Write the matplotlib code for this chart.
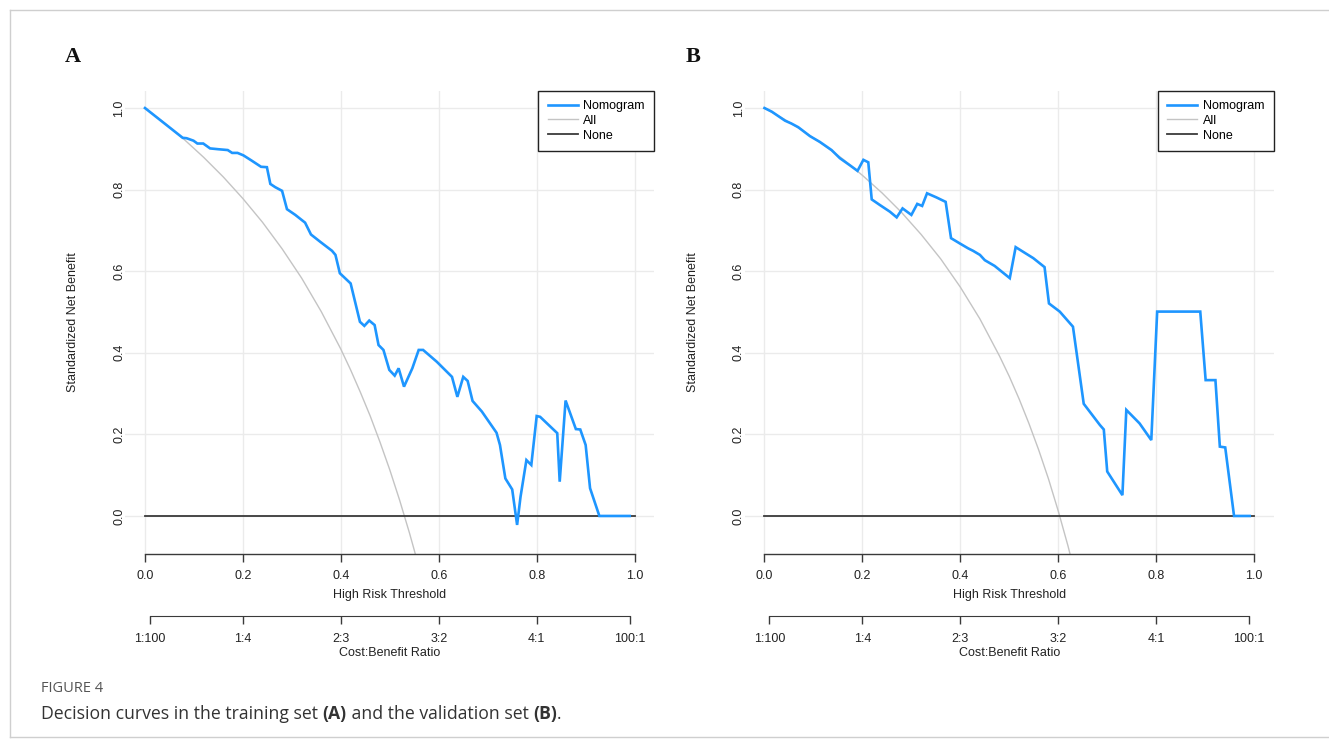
import matplotlib
matplotlib.use("Agg")
import matplotlib.pyplot as plt
from matplotlib.lines import Line2D

W, H = 1329, 747

# ---------------- data ----------------
threshold_ticks = [0.0, 0.2, 0.4, 0.6, 0.8, 1.0]
threshold_labels = ["0.0", "0.2", "0.4", "0.6", "0.8", "1.0"]
cb_ticks = [0.0099, 0.2, 0.4, 0.6, 0.8, 0.99]
cb_labels = ["1:100", "1:4", "2:3", "3:2", "4:1", "100:1"]
y_ticks = [0.0, 0.2, 0.4, 0.6, 0.8, 1.0]
y_labels = ["0.0", "0.2", "0.4", "0.6", "0.8", "1.0"]

# Panel A (training set)
a_nomo_x = [0.000, 0.077, 0.085, 0.099, 0.107, 0.119, 0.133, 0.150, 0.169, 0.178,
            0.189, 0.201, 0.218, 0.237, 0.249, 0.256, 0.266, 0.280, 0.290, 0.307,
            0.327, 0.339, 0.358, 0.382, 0.389, 0.398, 0.420, 0.439, 0.448, 0.458,
            0.469, 0.477, 0.487, 0.499, 0.510, 0.518, 0.529, 0.546, 0.559, 0.568,
            0.596, 0.627, 0.638, 0.650, 0.659, 0.669, 0.688, 0.718, 0.725, 0.736,
            0.750, 0.760, 0.767, 0.779, 0.789, 0.800, 0.807, 0.842, 0.847, 0.859,
            0.880, 0.889, 0.900, 0.909, 0.928, 0.990]
a_nomo_y = [1.000, 0.927, 0.926, 0.920, 0.913, 0.913, 0.901, 0.899, 0.897, 0.890,
            0.890, 0.884, 0.871, 0.856, 0.855, 0.814, 0.806, 0.797, 0.752, 0.738,
            0.719, 0.690, 0.672, 0.650, 0.640, 0.595, 0.570, 0.476, 0.466, 0.479,
            0.468, 0.419, 0.407, 0.358, 0.344, 0.362, 0.317, 0.362, 0.407, 0.407,
            0.378, 0.341, 0.292, 0.341, 0.331, 0.282, 0.256, 0.204, 0.174, 0.092,
            0.065, -0.022, 0.047, 0.137, 0.125, 0.245, 0.243, 0.203, 0.084, 0.283,
            0.213, 0.212, 0.174, 0.068, 0.000, 0.000]
a_all_x = [0.00, 0.04, 0.08, 0.12, 0.16, 0.20, 0.24, 0.28, 0.32, 0.36, 0.40,
           0.42, 0.44, 0.46, 0.48, 0.50, 0.52, 0.54, 0.55, 0.56]
a_all_y = [1.000, 0.963, 0.923, 0.879, 0.831, 0.778, 0.720, 0.655, 0.583, 0.501, 0.409,
           0.358, 0.303, 0.245, 0.181, 0.113, 0.039, -0.041, -0.084, -0.129]

# Panel B (validation set)
b_nomo_x = [0.000, 0.015, 0.042, 0.055, 0.069, 0.093, 0.113, 0.137, 0.154, 0.174,
            0.190, 0.202, 0.212, 0.219, 0.236, 0.256, 0.270, 0.282, 0.300, 0.312,
            0.322, 0.332, 0.351, 0.370, 0.381, 0.399, 0.416, 0.426, 0.440, 0.450,
            0.470, 0.501, 0.513, 0.549, 0.572, 0.581, 0.603, 0.630, 0.652, 0.685,
            0.693, 0.700, 0.731, 0.739, 0.766, 0.790, 0.802, 0.890, 0.901, 0.921,
            0.930, 0.941, 0.959, 0.991]
b_nomo_y = [1.000, 0.991, 0.969, 0.962, 0.953, 0.931, 0.917, 0.897, 0.877, 0.860,
            0.846, 0.873, 0.867, 0.776, 0.762, 0.746, 0.732, 0.754, 0.738, 0.765,
            0.760, 0.791, 0.781, 0.770, 0.681, 0.668, 0.656, 0.650, 0.640, 0.627,
            0.613, 0.583, 0.659, 0.632, 0.610, 0.521, 0.501, 0.464, 0.275, 0.223,
            0.212, 0.109, 0.051, 0.260, 0.227, 0.186, 0.501, 0.501, 0.333, 0.333,
            0.170, 0.168, 0.000, 0.000]
b_all_x = [0.00, 0.04, 0.08, 0.12, 0.16, 0.20, 0.24, 0.28, 0.32, 0.36, 0.40,
           0.44, 0.48, 0.50, 0.52, 0.54, 0.56, 0.58, 0.60, 0.62, 0.64]
b_all_y = [1.000, 0.973, 0.943, 0.910, 0.875, 0.835, 0.792, 0.744, 0.690, 0.630, 0.561,
           0.483, 0.392, 0.342, 0.287, 0.227, 0.162, 0.091, 0.012, -0.074, -0.170]

none_x = [0.0, 1.0]
none_y = [0.0, 0.0]

# ---------------- styles ----------------
BLUE = "#1E96FF"
GREY = "#C4C4C4"
DARK = "#3A3A3A"
GRID = "#EBEBEB"
SANS = ["Liberation Sans", "DejaVu Sans"]

plt.rcParams["font.family"] = SANS

fig = plt.figure(figsize=(W / 100, H / 100), dpi=100)
fig.patch.set_facecolor("white")


def px_axes(left, top, width, height):
    return fig.add_axes([left / W, 1 - (top + height) / H, width / W, height / H])


def panel(left, nx, ny, ax_x, ax_y, letter, letter_x, ylab_x):
    top, height, width = 90.7, 463.0, 528.8
    ax = px_axes(left, top, width, height)
    ax.set_xlim(-0.04, 1.04)
    ax.set_ylim(-0.0925, 1.0425)
    ax.set_facecolor("none")
    for s in ["top", "right", "left"]:
        ax.spines[s].set_visible(False)
    ax.spines["bottom"].set_bounds(0.0, 1.0)
    ax.spines["bottom"].set_color(DARK)
    ax.spines["bottom"].set_linewidth(1.0)
    ax.set_xticks(threshold_ticks)
    ax.set_xticklabels(threshold_labels)
    ax.set_yticks(y_ticks)
    ax.set_yticklabels(y_labels, rotation=90, va="center")
    ax.tick_params(axis="x", direction="out", length=5.5, width=1.0, color=DARK,
                   pad=6.5, labelsize=9, labelcolor="#222222")
    ax.tick_params(axis="y", length=0, pad=0, labelsize=9, labelcolor="#222222")
    for v in threshold_ticks:
        ax.axvline(v, color=GRID, lw=1.0, zorder=0)
    for v in y_ticks:
        ax.axhline(v, color=GRID, lw=1.0, zorder=0)

    ax.plot(ax_x, ax_y, color=GREY, lw=1.0, zorder=2, label="All")
    ax.plot(none_x, none_y, color=DARK, lw=1.3, zorder=3, label="None")
    ax.plot(nx, ny, color=BLUE, lw=1.9, zorder=4, label="Nomogram",
            solid_joinstyle="miter")

    handles = [Line2D([], [], color=BLUE, lw=1.9),
               Line2D([], [], color=GREY, lw=1.0),
               Line2D([], [], color=DARK, lw=1.3)]
    leg = ax.legend(handles, ["Nomogram", "All", "None"], loc="upper right",
                    bbox_to_anchor=(1.0, 1.0), borderaxespad=0.0, fancybox=False,
                    framealpha=1.0, edgecolor="#222222", fontsize=9,
                    handlelength=2.4, handletextpad=0.45, labelspacing=0.22,
                    borderpad=0.75)
    leg.get_frame().set_linewidth(1.0)
    leg.set_zorder(10)

    ax2 = ax.twiny()
    ax2.set_xlim(ax.get_xlim())
    ax2.patch.set_visible(False)
    for s in ["top", "right", "left"]:
        ax2.spines[s].set_visible(False)
    ax2.xaxis.set_ticks_position("bottom")
    ax2.xaxis.set_label_position("bottom")
    ax2.spines["bottom"].set_position(("outward", 62 * 0.72))
    ax2.spines["bottom"].set_bounds(cb_ticks[0], cb_ticks[-1])
    ax2.spines["bottom"].set_color(DARK)
    ax2.set_xticks(cb_ticks)
    ax2.set_xticklabels(cb_labels)
    ax2.tick_params(axis="x", direction="out", length=5.5, width=1.0, color=DARK,
                    pad=7, labelsize=9, labelcolor="#222222")

    cx = left + width * (0.5 - (-0.04)) / 1.08
    fig.text(cx / W, 1 - 595 / H, "High Risk Threshold", ha="center", va="center",
             fontsize=9, color="#222222")
    fig.text(cx / W, 1 - 653 / H, "Cost:Benefit Ratio", ha="center", va="center",
             fontsize=9, color="#222222")
    fig.text(ylab_x / W, 1 - 322 / H, "Standardized Net Benefit", ha="center",
             va="center", rotation=90, fontsize=9, color="#222222")
    fig.text(letter_x / W, 1 - 57 / H, letter, ha="center", va="center",
             fontsize=16, fontweight="bold", family=["Liberation Serif", "DejaVu Serif"],
             color="#111111")
    return ax


panel(125.4, a_nomo_x, a_nomo_y, a_all_x, a_all_y, "A", 73, 73)
panel(744.9, b_nomo_x, b_nomo_y, b_all_x, b_all_y, "B", 693, 693)

# figure frame
fig.add_artist(Line2D([10 / W, 10 / W], [1 - 737 / H, 1 - 10 / H], color="#CFCFCF", lw=1.0))
fig.add_artist(Line2D([10 / W, 1.0], [1 - 10 / H, 1 - 10 / H], color="#CFCFCF", lw=1.0))
fig.add_artist(Line2D([10 / W, 1.0], [1 - 737 / H, 1 - 737 / H], color="#CFCFCF", lw=1.0))

CAP = ["Open Sans", "DejaVu Sans"]
fig.text(41 / W, 1 - 689 / H, "FIGURE 4", ha="left", va="center", fontsize=10.5,
         color="#555555", family=CAP)

fig.canvas.draw()
renderer = fig.canvas.get_renderer()
parts = [("Decision curves in the training set ", "normal"), ("(A)", "bold"),
         (" and the validation set ", "normal"), ("(B)", "bold"), (".", "normal")]
cur = 41.0
for s, w in parts:
    t = fig.text(cur / W, 1 - 714 / H, s, ha="left", va="center", fontsize=12.7,
                 fontweight=w, color="#333333", family=CAP)
    bb = t.get_window_extent(renderer=renderer)
    cur = bb.x1

fig.savefig("out.png", dpi=100, facecolor="white")
